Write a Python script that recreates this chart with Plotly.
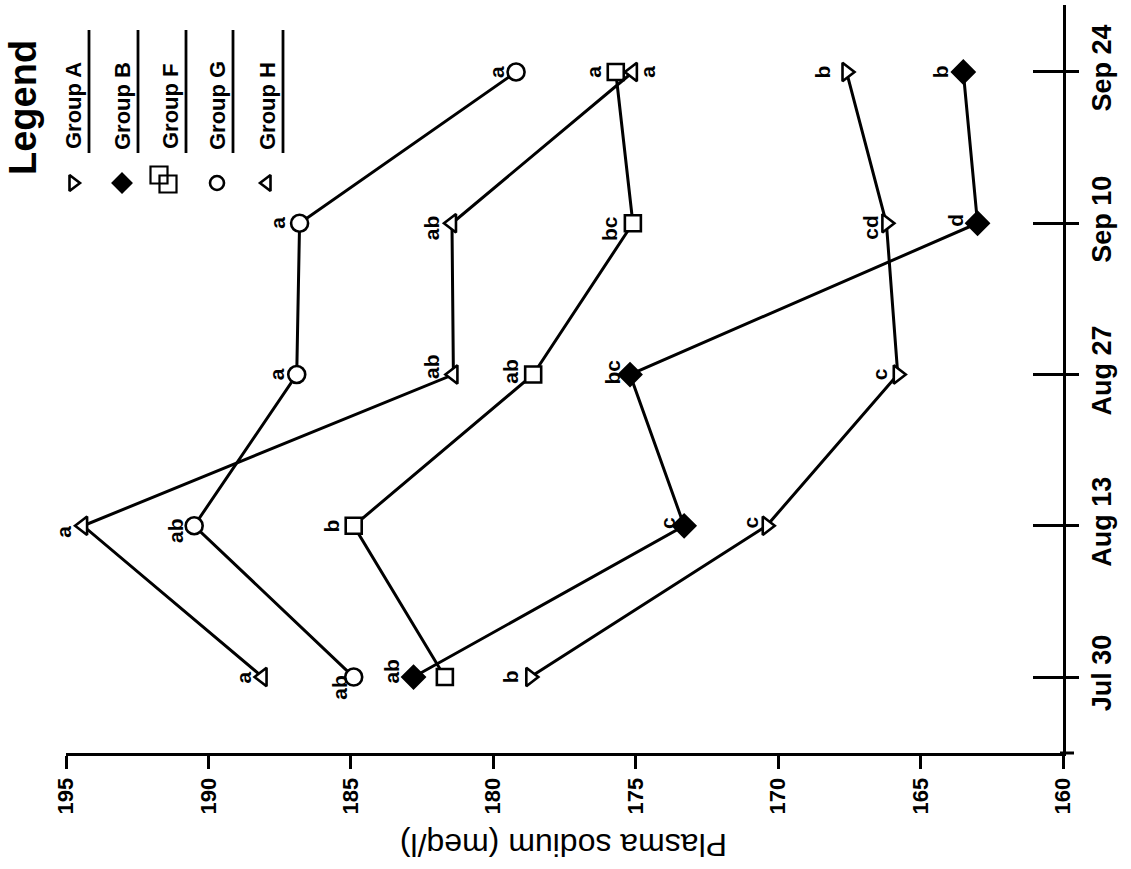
import plotly.graph_objects as go

# ---------------- data ----------------
dates = ["Jul 30", "Aug 13", "Aug 27", "Sep 10", "Sep 24"]
days = [0, 14, 28, 42, 56]
sodium_ticks = [195, 190, 185, 180, 175, 170, 165, 160]

group_a = [178.7, 170.4, 165.8, 166.2, 167.6]
group_b = [182.8, 173.3, 175.2, 163.0, 163.5]
group_f = [181.7, 184.9, 178.6, 175.1, 175.7]
group_g = [184.9, 190.5, 186.9, 186.8, 179.2]
group_h = [188.1, 194.4, 181.4, 181.45, 175.1]

letters_a = ["b", "c", "c", "cd", "b"]
letters_b = ["ab", "c", "bc", "d", "b"]
letters_f = ["", "b", "ab", "bc", "a"]
letters_g = ["ab", "ab", "a", "a", "a"]
letters_h = ["a", "a", "ab", "ab", "a"]

group_names = ["Group A", "Group B", "Group F", "Group G", "Group H"]

# ---------------- styles ----------------
FONT = "Liberation Sans"
W, H = 1131, 869
series = [
    (group_a, letters_a, dict(symbol="triangle-right", size=16, color="white")),
    (group_b, letters_b, dict(symbol="diamond", size=17, color="black")),
    (group_f, letters_f, dict(symbol="square", size=16, color="white")),
    (group_g, letters_g, dict(symbol="circle", size=17, color="white")),
    (group_h, letters_h, dict(symbol="triangle-left", size=16, color="white")),
]
# label offsets in pixels (dx right, dy down)
label_offsets = [
    [(-20, 0), (-16, -3), (-18, 0), (-16, 4), (-24, 0)],
    [(-22, -6), (-16, -3), (-18, -2), (-22, -3), (-22, 0)],
    [(0, 0), (-22, 0), (-23, -3), (-24, 5), (-22, 0)],
    [(-15, 10), (-18, 5), (-20, 0), (-22, 0), (-19, 0)],
    [(-20, 1), (-19, 6), (-22, -8), (-21, 4), (15, 0)],
]

fig = go.Figure()
annotations = []
for (vals, letters, mk), offs in zip(series, label_offsets):
    fig.add_trace(go.Scatter(
        x=vals, y=days, mode="lines+markers",
        line=dict(color="black", width=3),
        marker=dict(symbol=mk["symbol"], size=mk["size"], color=mk["color"],
                    line=dict(color="black", width=2.6)),
        showlegend=False, cliponaxis=False))
    for v, d, t, (dx, dy) in zip(vals, days, letters, offs):
        if not t:
            continue
        annotations.append(dict(
            x=v, y=d, xref="x", yref="y", text=t, showarrow=False,
            textangle=-90, xshift=dx, yshift=-dy,
            font=dict(family=FONT, size=21, color="black", weight="bold")))

# dummy trace for the overlaid axis (outside ticks + labels)
fig.add_trace(go.Scatter(x=[None], y=[None], yaxis="y2", showlegend=False))

# ---------------- legend (pixel-space axes) ----------------
leg_x = [73, 122, 170, 217, 267]
leg_marker_y = 183
leg_syms = ["triangle-right", "diamond", None, "circle", "triangle-left"]
leg_cols = ["white", "black", None, "white", "white"]
for lx, sym, col in zip(leg_x, leg_syms, leg_cols):
    if sym is None:
        fig.add_trace(go.Scatter(
            x=[lx - 11, lx - 2], y=[leg_marker_y - 8, leg_marker_y + 1],
            xaxis="x3", yaxis="y3", mode="markers",
            marker=dict(symbol="square-open", size=17, color="black",
                        line=dict(width=2.2)),
            showlegend=False))
    else:
        fig.add_trace(go.Scatter(
            x=[lx], y=[leg_marker_y], xaxis="x3", yaxis="y3", mode="markers",
            marker=dict(symbol=sym, size=14, color=col,
                        line=dict(color="black", width=2.6)),
            showlegend=False))

annotations.append(dict(x=23, y=108, xref="x3", yref="y3", text="Legend",
                        showarrow=False, textangle=-90,
                        font=dict(family=FONT, size=38, color="black", weight="bold")))
shapes = []
for lx, name in zip(leg_x, group_names):
    annotations.append(dict(x=lx, y=106, xref="x3", yref="y3", text=name,
                            showarrow=False, textangle=-90,
                            font=dict(family=FONT, size=22, color="black", weight="bold")))
    shapes.append(dict(type="line", xref="x3", yref="y3",
                       x0=lx + 16, x1=lx + 16, y0=30, y1=153,
                       line=dict(color="black", width=2.8)))

# small extension of the bottom axis line beyond the right axis
shapes.append(dict(type="line", xref="x3", yref="y3", x0=1060, x1=1074,
                   y0=753, y1=753, line=dict(color="black", width=3)))

# axis title (upside down, as in the rotated original)
annotations.append(dict(x=564, y=845, xref="x3", yref="y3",
                        text="Plasma sodium (meq/l)", showarrow=False,
                        textangle=180,
                        font=dict(family=FONT, size=32, color="black")))

ydom = [116 / H, 864 / H]
yrange = [-7.03, 62.2]
fig.update_layout(
    width=W, height=H,
    margin=dict(l=0, r=0, t=0, b=0, pad=0, autoexpand=False),
    paper_bgcolor="white", plot_bgcolor="rgba(0,0,0,0)",
    showlegend=False,
    xaxis=dict(domain=[66 / W, 1063 / W], range=[195, 160], anchor="y",
               tickvals=sodium_ticks, ticks="outside", ticklen=13, tickwidth=3,
               tickcolor="black", tickangle=-90, automargin=False,
               tickfont=dict(family=FONT, size=22, color="black", weight="bold"),
               showline=True, linewidth=3, linecolor="black",
               showgrid=False, zeroline=False),
    yaxis=dict(domain=ydom, range=yrange, side="right", anchor="x",
               tickvals=days, ticktext=dates, ticks="inside", ticklen=30,
               tickwidth=3, tickcolor="black", showticklabels=False,
               automargin=False,
               showline=True, linewidth=3, linecolor="black",
               showgrid=False, zeroline=False),
    yaxis2=dict(overlaying="y", side="right", anchor="x", range=yrange,
                tickvals=days, ticktext=dates, ticks="outside", ticklen=15,
                tickwidth=3, tickcolor="black", tickangle=-90,
                automargin=False,
                tickfont=dict(family=FONT, size=27, color="black", weight="bold"),
                showline=False, showgrid=False, zeroline=False),
    xaxis3=dict(domain=[0, 1], range=[0, W], anchor="y3", visible=False,
                fixedrange=True, automargin=False),
    yaxis3=dict(domain=[0, 1], range=[H, 0], anchor="x3", visible=False,
                fixedrange=True, automargin=False),
    annotations=annotations,
    shapes=shapes,
)

fig.write_html("out.html")
